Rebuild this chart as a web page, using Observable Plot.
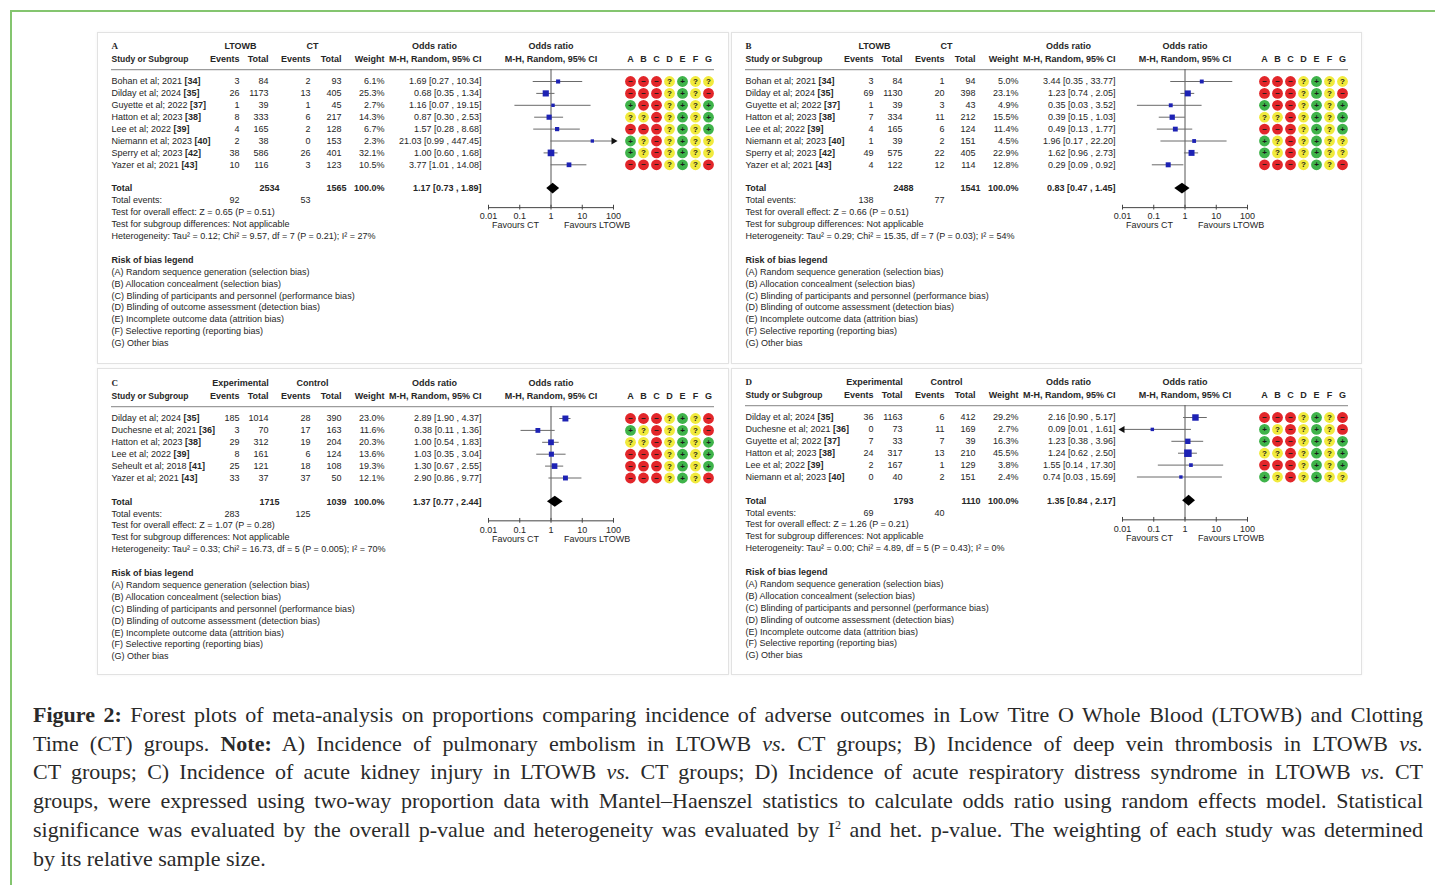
<!DOCTYPE html>
<html><head><meta charset="utf-8">
<script src="https://cdn.jsdelivr.net/npm/d3@7"></script>
<script src="https://cdn.jsdelivr.net/npm/@observablehq/plot@0.6"></script>
<style>
body{margin:0;background:#fff;width:1435px;height:885px;overflow:hidden;position:relative;font-family:"Liberation Sans",Arial,sans-serif}
#frame{position:absolute;left:10px;top:10px;width:1500px;height:900px;border-top:2px solid #84c56f;border-left:2px solid #84c56f}
.card{position:absolute;border:1px solid #e2e2e2;box-shadow:0 0 3px rgba(0,0,0,0.05);background:#fff}
.card svg{position:absolute;left:0;top:0}
#caption{position:absolute;left:33px;top:701px;width:1390px;font-family:"Liberation Serif","Times New Roman",serif;font-size:22px;line-height:28.7px;color:#2a2a2a}
#caption .ln{text-align:justify;text-align-last:justify;white-space:nowrap}
#caption .last{text-align:left;text-align-last:left}
</style></head>
<body>
<div id="frame"></div>
<div id="caption">
<div class="ln"><b>Figure 2:</b> Forest plots of meta-analysis on proportions comparing incidence of adverse outcomes in Low Titre O Whole Blood (LTOWB) and Clotting</div>
<div class="ln">Time (CT) groups. <b>Note:</b> A) Incidence of pulmonary embolism in LTOWB <i>vs.</i> CT groups; B) Incidence of deep vein thrombosis in LTOWB <i>vs.</i></div>
<div class="ln">CT groups; C) Incidence of acute kidney injury in LTOWB <i>vs.</i> CT groups; D) Incidence of acute respiratory distress syndrome in LTOWB <i>vs.</i> CT</div>
<div class="ln">groups, were expressed using two-way proportion data with Mantel–Haenszel statistics to calculate odds ratio using random effects model. Statistical</div>
<div class="ln">significance was evaluated by the overall p-value and heterogeneity was evaluated by I<sup style="font-size:12px;line-height:0">2</sup> and het. p-value. The weighting of each study was determined</div>
<div class="ln last">by its relative sample size.</div>
</div>
<script>
// ---------------- DATA ----------------
// Panel A: pulmonary embolism
const studyA = ["Bohan et al; 2021","Dilday et al; 2024","Guyette et al; 2022","Hatton et al; 2023","Lee et al; 2022","Niemann et al; 2023","Sperry et al; 2023","Yazer et al; 2021"];
const refA = ["[34]","[35]","[37]","[38]","[39]","[40]","[42]","[43]"];
const evExpA = [3,26,1,8,4,2,38,10];
const totExpA = [84,1173,39,333,165,38,586,116];
const evCtlA = [2,13,1,6,2,0,26,3];
const totCtlA = [93,405,45,217,128,153,401,123];
const weightA = [6.1,25.3,2.7,14.3,6.7,2.3,32.1,10.5];
const orA = [1.69,0.68,1.16,0.87,1.57,21.03,1.00,3.77];
const loA = [0.27,0.35,0.07,0.30,0.28,0.99,0.60,1.01];
const hiA = [10.34,1.34,19.15,2.53,8.68,447.45,1.68,14.08];
const robA = ["---?+??","---?+?-","+--?+?+","??-?+?+","---?+?+","+?-?+??","+?-?+??","---?+?-"];
const totalA = [2534,1565,1.17,0.73,1.89];
const eventsA = [92,53];
const statsA = ["Test for overall effect: Z = 0.65 (P = 0.51)","Test for subgroup differences: Not applicable","Heterogeneity: Tau² = 0.12; Chi² = 9.57, df = 7 (P = 0.21); I² = 27%"];

// Panel B: deep vein thrombosis
const studyB = ["Bohan et al; 2021","Dilday et al; 2024","Guyette et al; 2022","Hatton et al; 2023","Lee et al; 2022","Niemann et al; 2023","Sperry et al; 2023","Yazer et al; 2021"];
const refB = ["[34]","[35]","[37]","[38]","[39]","[40]","[42]","[43]"];
const evExpB = [3,69,1,7,4,1,49,4];
const totExpB = [84,1130,39,334,165,39,575,122];
const evCtlB = [1,20,3,11,6,2,22,12];
const totCtlB = [94,398,43,212,124,151,405,114];
const weightB = [5.0,23.1,4.9,15.5,11.4,4.5,22.9,12.8];
const orB = [3.44,1.23,0.35,0.39,0.49,1.96,1.62,0.29];
const loB = [0.35,0.74,0.03,0.15,0.13,0.17,0.96,0.09];
const hiB = [33.77,2.05,3.52,1.03,1.77,22.20,2.73,0.92];
const robB = ["---?+??","---?+?-","+--?+?+","??-?+?+","---?+?+","+?-?+??","+?-?+??","---?+?-"];
const totalB = [2488,1541,0.83,0.47,1.45];
const eventsB = [138,77];
const statsB = ["Test for overall effect: Z = 0.66 (P = 0.51)","Test for subgroup differences: Not applicable","Heterogeneity: Tau² = 0.29; Chi² = 15.35, df = 7 (P = 0.03); I² = 54%"];

// Panel C: acute kidney injury
const studyC = ["Dilday et al; 2024","Duchesne et al; 2021","Hatton et al; 2023","Lee et al; 2022","Seheult et al; 2018","Yazer et al; 2021"];
const refC = ["[35]","[36]","[38]","[39]","[41]","[43]"];
const evExpC = [185,3,29,8,25,33];
const totExpC = [1014,70,312,161,121,37];
const evCtlC = [28,17,19,6,18,37];
const totCtlC = [390,163,204,124,108,50];
const weightC = [23.0,11.6,20.3,13.6,19.3,12.1];
const orC = [2.89,0.38,1.00,1.03,1.30,2.90];
const loC = [1.90,0.11,0.54,0.35,0.67,0.86];
const hiC = [4.37,1.36,1.83,3.04,2.55,9.77];
const robC = ["---?+?-","+?-?+?-","??-?+?+","---?+?+","---?+?+","---?+?-"];
const totalC = [1715,1039,1.37,0.77,2.44];
const eventsC = [283,125];
const statsC = ["Test for overall effect: Z = 1.07 (P = 0.28)","Test for subgroup differences: Not applicable","Heterogeneity: Tau² = 0.33; Chi² = 16.73, df = 5 (P = 0.005); I² = 70%"];

// Panel D: ARDS
const studyD = ["Dilday et al; 2024","Duchesne et al; 2021","Guyette et al; 2022","Hatton et al; 2023","Lee et al; 2022","Niemann et al; 2023"];
const refD = ["[35]","[36]","[37]","[38]","[39]","[40]"];
const evExpD = [36,0,7,24,2,0];
const totExpD = [1163,73,33,317,167,40];
const evCtlD = [6,11,7,13,1,2];
const totCtlD = [412,169,39,210,129,151];
const weightD = [29.2,2.7,16.3,45.5,3.8,2.4];
const orD = [2.16,0.09,1.23,1.24,1.55,0.74];
const loD = [0.90,0.01,0.38,0.62,0.14,0.03];
const hiD = [5.17,1.61,3.96,2.50,17.30,15.69];
const robD = ["---?+?-","+?-?+?-","+--?+?+","??-?+?+","---?+?+","+?-?+??"];
const totalD = [1793,1110,1.35,0.84,2.17];
const eventsD = [69,40];
const statsD = ["Test for overall effect: Z = 1.26 (P = 0.21)","Test for subgroup differences: Not applicable","Heterogeneity: Tau² = 0.00; Chi² = 4.89, df = 5 (P = 0.43); I² = 0%"];

const robLegend = ["(A) Random sequence generation (selection bias)","(B) Allocation concealment (selection bias)","(C) Blinding of participants and personnel (performance bias)","(D) Blinding of outcome assessment (detection bias)","(E) Incomplete outcome data (attrition bias)","(F) Selective reporting (reporting bias)","(G) Other bias"];
const robDomains = ["A","B","C","D","E","F","G"];
const axisTicks = [0.01,0.1,1,10,100];
const axisTickLabels = ["0.01","0.1","1","10","100"];

// ---------------- LAYOUT ----------------
const STEP = 11.9;
const FS = 9;
const COL = {name:13, evE:141, totE:170, evC:212, totC:243, wt:286, or:383, grpE:142, grpC:214, oddsHdr:336, lineEnd:616};
const FOREST_RANGE = [390, 515];
const ROB_RANGE = [532, 610];
const RED = "#e2262a", YEL = "#f1ea3c", GRN = "#3fb34a";
const TXT = "#262626";

const canvas = document.createElement("canvas");
const ctx = canvas.getContext("2d");
ctx.font = FS + "px 'Liberation Sans'";
const tw = s => ctx.measureText(s).width;

const fmtCI = (o,l,h) => `${o.toFixed(2)} [${l.toFixed(2)} , ${h.toFixed(2)}]`;

const panels = [
  {id:"A", left:97, top:32, w:630, h:330, row0:48, grp:["LTOWB","CT"], study:studyA, ref:refA, evE:evExpA, totE:totExpA, evC:evCtlA, totC:totCtlA, weight:weightA, or:orA, lo:loA, hi:hiA, rob:robA, total:totalA, events:eventsA, stats:statsA},
  {id:"B", left:731, top:32, w:629, h:330, row0:48, grp:["LTOWB","CT"], study:studyB, ref:refB, evE:evExpB, totE:totExpB, evC:evCtlB, totC:totCtlB, weight:weightB, or:orB, lo:loB, hi:hiB, rob:robB, total:totalB, events:eventsB, stats:statsB},
  {id:"C", left:97, top:368, w:630, h:305, row0:49, grp:["Experimental","Control"], study:studyC, ref:refC, evE:evExpC, totE:totExpC, evC:evCtlC, totC:totCtlC, weight:weightC, or:orC, lo:loC, hi:hiC, rob:robC, total:totalC, events:eventsC, stats:statsC},
  {id:"D", left:731, top:368, w:629, h:305, row0:48, grp:["Experimental","Control"], study:studyD, ref:refD, evE:evExpD, totE:totExpD, evC:evCtlD, totC:totCtlD, weight:weightD, or:orD, lo:loD, hi:hiD, rob:robD, total:totalD, events:eventsD, stats:statsD}
];

function build(p) {
  const card = document.createElement("div");
  card.className = "card";
  Object.assign(card.style, {left: p.left+"px", top: p.top+"px", width: p.w+"px", height: p.h+"px"});
  const n = p.study.length;
  const rows = p.study.map((s,i) => ({
    i, name: s, ref: p.ref[i], ee: p.evE[i], te: p.totE[i], ec: p.evC[i], tc: p.totC[i],
    w: p.weight[i], or: p.or[i], lo: p.lo[i], hi: p.hi[i], rob: p.rob[i],
    clo: Math.max(p.lo[i], 0.01), chi: Math.min(p.hi[i], 100)
  }));
  const yS = {type:"linear", domain:[0,1], range:[p.row0, p.row0+STEP], axis:null};
  const style = {background:"transparent", overflow:"visible", fontFamily:"'Liberation Sans', Arial, sans-serif", fontSize: FS+"px", color:TXT};
  const base = {width:p.w, height:p.h, margin:0, style};
  const yH1 = -2.95, yH2 = -1.87;
  const tTot = n+1, tEv = n+2;
  const stats = p.stats.map((s,k) => ({s, y: n+3+k}));
  const leg = robLegend.map((s,k) => ({s, y: n+8+k}));
  const bold = "bold";

  const table = Plot.plot({
    ...base,
    x: {type:"linear", domain:[0,p.w], range:[0,p.w], axis:null},
    y: yS,
    marks: [
      Plot.ruleY([-1], {x1: COL.name, x2: COL.lineEnd, stroke:"#9c9c9c", strokeWidth:1.4}),
      Plot.text([p.id], {x: COL.name, y: yH1, text: d=>d, textAnchor:"start", fontFamily:"'Liberation Serif', serif", fontWeight:bold}),
      Plot.text([p.grp[0]], {x: COL.grpE, y: yH1, text:d=>d, fontWeight:bold}),
      Plot.text([p.grp[1]], {x: COL.grpC, y: yH1, text:d=>d, fontWeight:bold}),
      Plot.text(["Odds ratio"], {x: COL.oddsHdr, y: yH1, text:d=>d, fontWeight:bold}),
      Plot.text(["Study or Subgroup"], {x: COL.name, y: yH2, text:d=>d, textAnchor:"start", fontWeight:bold, fontSize:8.5}),
      Plot.text(["Events","Total","Events","Total","Weight","M-H, Random, 95% CI"], {x: (d,k)=>[COL.evE,COL.totE,COL.evC,COL.totC,COL.wt,COL.or][k], y: yH2, text:d=>d, textAnchor:"end", fontWeight:bold}),
      Plot.text(rows, {x: COL.name, y:"i", text:"name", textAnchor:"start"}),
      Plot.text(rows, {x: d => COL.name + tw(d.name + " "), y:"i", text:"ref", textAnchor:"start", fontWeight:bold}),
      Plot.text(rows, {x: COL.evE, y:"i", text: d=>String(d.ee), textAnchor:"end"}),
      Plot.text(rows, {x: COL.totE, y:"i", text: d=>String(d.te), textAnchor:"end"}),
      Plot.text(rows, {x: COL.evC, y:"i", text: d=>String(d.ec), textAnchor:"end"}),
      Plot.text(rows, {x: COL.totC, y:"i", text: d=>String(d.tc), textAnchor:"end"}),
      Plot.text(rows, {x: COL.wt, y:"i", text: d=>d.w.toFixed(1)+"%", textAnchor:"end"}),
      Plot.text(rows, {x: COL.or, y:"i", text: d=>fmtCI(d.or,d.lo,d.hi), textAnchor:"end"}),
      Plot.text(["Total"], {x: COL.name, y: tTot, text:d=>d, textAnchor:"start", fontWeight:bold}),
      Plot.text([p.total[0]], {x: COL.totE + 11, y: tTot, text:d=>String(d), textAnchor:"end", fontWeight:bold}),
      Plot.text([p.total[1]], {x: COL.totC + 5, y: tTot, text:d=>String(d), textAnchor:"end", fontWeight:bold}),
      Plot.text(["100.0%"], {x: COL.wt, y: tTot, text:d=>d, textAnchor:"end", fontWeight:bold}),
      Plot.text([p.total], {x: COL.or, y: tTot, text:d=>fmtCI(d[2],d[3],d[4]), textAnchor:"end", fontWeight:bold}),
      Plot.text(["Total events:"], {x: COL.name, y: tEv, text:d=>d, textAnchor:"start"}),
      Plot.text([p.events[0]], {x: COL.evE, y: tEv, text:d=>String(d), textAnchor:"end"}),
      Plot.text([p.events[1]], {x: COL.evC, y: tEv, text:d=>String(d), textAnchor:"end"}),
      Plot.text(stats, {x: COL.name, y:"y", text:"s", textAnchor:"start"}),
      Plot.text(["Risk of bias legend"], {x: COL.name, y: n+7, text:d=>d, textAnchor:"start", fontWeight:bold}),
      Plot.text(leg, {x: COL.name, y:"y", text:"s", textAnchor:"start"})
    ]
  });

  const axisY = n + 2.6;
  const diamond = [
    {y: tTot - 0.46, x1: p.total[2], x2: p.total[2]},
    {y: tTot, x1: p.total[3], x2: p.total[4]},
    {y: tTot + 0.46, x1: p.total[2], x2: p.total[2]}
  ];
  const forest = Plot.plot({
    ...base,
    x: {type:"log", domain:[0.01,100], range:FOREST_RANGE, axis:null},
    y: yS,
    r: {type:"sqrt", domain:[0,50], range:[1.2,4.4]},
    marks: [
      Plot.text(["Odds ratio"], {x:1, y:yH1, text:d=>d, fontWeight:bold}),
      Plot.text(["M-H, Random, 95% CI"], {x:1, y:yH2, text:d=>d, fontWeight:bold}),
      Plot.ruleX([1], {y1:-1, y2:axisY, stroke:"#555", strokeWidth:1}),
      Plot.ruleY(rows, {y:"i", x1:"clo", x2:"chi", stroke:"#6a6a6a", strokeWidth:1}),
      Plot.dot(rows.filter(d => d.hi > 100), {x: 100, y:"i", symbol:"triangle", rotate:90, r:2.6, fill:"#111", stroke:"none"}),
      Plot.dot(rows.filter(d => d.lo <= 0.01), {x: 0.01, y:"i", symbol:"triangle", rotate:-90, r:2.6, fill:"#111", stroke:"none"}),
      Plot.dot(rows, {x:"or", y:"i", r:"w", symbol:"square", fill:"#1d22b4", stroke:"none"}),
      Plot.areaX(diamond, {y:"y", x1:"x1", x2:"x2", fill:"#000", curve:"linear"}),
      Plot.ruleY([axisY], {x1:0.01, x2:100, stroke:"#444", strokeWidth:1}),
      Plot.ruleX(axisTicks, {x:d=>d, y1:axisY-0.2, y2:axisY+0.2, stroke:"#444"}),
      Plot.text(axisTicks, {x:d=>d, y:axisY+0.75, text:(d,k)=>axisTickLabels[k]}),
      Plot.text(["Favours CT"], {x:1, y:axisY+1.5, dx:-12, text:d=>d, textAnchor:"end"}),
      Plot.text(["Favours LTOWB"], {x:1, y:axisY+1.5, dx:13, text:d=>d, textAnchor:"start"})
    ]
  });

  const cells = [];
  rows.forEach(r => robDomains.forEach((c,k) => cells.push({i:r.i, col:c, code:r.rob[k]})));
  const sym = {"-":"−", "?":"?", "+":"+"};
  const rob = Plot.plot({
    ...base,
    x: {type:"point", domain:robDomains, range:ROB_RANGE, padding:0, axis:null},
    y: yS,
    color: {type:"ordinal", domain:["-","?","+"], range:[RED, YEL, GRN]},
    marks: [
      Plot.text(["Risk of Bias"], {x:"D", y:yH1, text:d=>d, fontWeight:bold}),
      Plot.text(robDomains, {x:d=>d, y:yH2, text:d=>d, fontWeight:bold}),
      Plot.dot(cells, {x:"col", y:"i", fill:"code", r:5.4, stroke:"none"}),
      Plot.text(cells, {x:"col", y:"i", text:d=>sym[d.code], fontWeight:bold, fontSize:8, fill:"#1a1a1a"})
    ]
  });

  card.append(table, forest, rob);
  document.body.append(card);
}
panels.forEach(build);
</script>
</body></html>
